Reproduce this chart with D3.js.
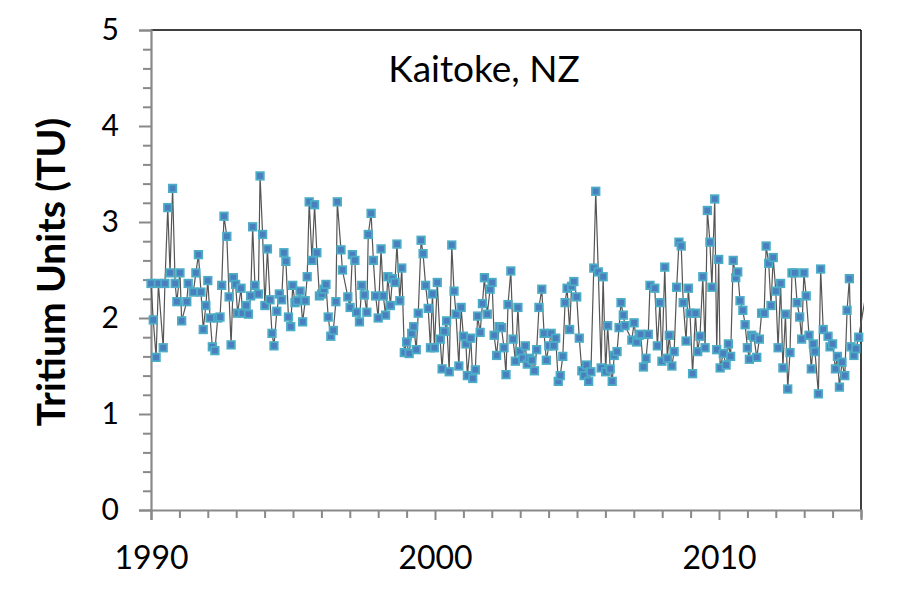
<!DOCTYPE html>
<html>
<head>
<meta charset="utf-8">
<script src="https://cdn.jsdelivr.net/npm/d3@7"></script>
<style>
  html, body { margin: 0; padding: 0; background: #ffffff; }
  svg { display: block; }
</style>
</head>
<body>
<svg id="chart" width="904" height="597"></svg>
<script>
// ---------------- data ----------------
const chartTitle = "Kaitoke, NZ";
const yAxisTitle = "Tritium Units (TU)";
const xTickLabels = [1990, 2000, 2010];
const yTickLabels = [0, 1, 2, 3, 4, 5];

// sample dates (decimal years)
const sampleYears = [
  1990.00, 1990.08, 1990.18, 1990.26, 1990.43, 1990.49, 1990.59, 1990.67, 1990.76, 1990.85,
  1990.91, 1991.02, 1991.08, 1991.26, 1991.31, 1991.49, 1991.58, 1991.67, 1991.76, 1991.84,
  1991.93, 1992.00, 1992.08, 1992.16, 1992.25, 1992.35, 1992.43, 1992.49, 1992.57, 1992.67,
  1992.75, 1992.82, 1992.90, 1992.98, 1993.05, 1993.17, 1993.22,
  1993.35, 1993.43, 1993.51, 1993.58, 1993.66, 1993.78, 1993.84, 1993.93, 1994.01, 1994.10,
  1994.19, 1994.26, 1994.33, 1994.43, 1994.52, 1994.60, 1994.68, 1994.75, 1994.84, 1994.92,
  1994.99, 1995.07, 1995.15, 1995.25, 1995.34, 1995.43, 1995.50, 1995.57, 1995.67, 1995.76,
  1995.84, 1995.93, 1996.01, 1996.09, 1996.16, 1996.24, 1996.33, 1996.42, 1996.51, 1996.56,
  1996.69, 1996.74,
  1996.93, 1997.01, 1997.09, 1997.18, 1997.24, 1997.34, 1997.42, 1997.51, 1997.60, 1997.65,
  1997.75, 1997.83, 1997.91, 1998.00, 1998.10, 1998.18, 1998.26, 1998.34, 1998.43, 1998.50,
  1998.59, 1998.66, 1998.76, 1998.83, 1998.92, 1999.00, 1999.09, 1999.18, 1999.25, 1999.34,
  1999.41, 1999.51, 1999.58, 1999.67, 1999.76, 1999.84, 1999.91, 1999.98, 2000.08,
  2000.18, 2000.25, 2000.33, 2000.41, 2000.50, 2000.59, 2000.67, 2000.74, 2000.84, 2000.92,
  2001.00, 2001.09, 2001.14, 2001.26, 2001.33, 2001.42, 2001.50, 2001.59, 2001.67, 2001.74,
  2001.84, 2001.94, 2002.01, 2002.08, 2002.17, 2002.26, 2002.34, 2002.43, 2002.50, 2002.57,
  2002.67, 2002.75, 2002.83, 2002.92, 2002.99, 2003.09, 2003.18, 2003.25, 2003.32,
  2003.41, 2003.50, 2003.58, 2003.66, 2003.76, 2003.84, 2003.92, 2004.01, 2004.09, 2004.18,
  2004.25, 2004.34, 2004.41, 2004.50, 2004.58, 2004.65, 2004.74, 2004.81, 2004.89, 2004.99,
  2005.08, 2005.17, 2005.25, 2005.33, 2005.41, 2005.49, 2005.59, 2005.66, 2005.75, 2005.85,
  2005.92, 2006.01, 2006.08, 2006.17, 2006.24, 2006.31, 2006.41, 2006.48, 2006.55, 2006.63,
  2006.69,
  2006.93, 2007.01, 2007.10, 2007.19, 2007.24, 2007.34, 2007.43, 2007.51, 2007.57, 2007.74,
  2007.83, 2007.92, 2007.99, 2008.09, 2008.18, 2008.25, 2008.34, 2008.42, 2008.51, 2008.59,
  2008.67, 2008.74, 2008.84, 2008.92, 2008.98, 2009.07, 2009.17, 2009.25, 2009.33, 2009.43,
  2009.51, 2009.59, 2009.68, 2009.75, 2009.85, 2009.92, 2009.99, 2010.04,
  2010.15, 2010.25, 2010.33, 2010.41, 2010.50, 2010.59, 2010.66, 2010.74, 2010.84, 2010.92,
  2011.00, 2011.07, 2011.15, 2011.23, 2011.33, 2011.42, 2011.50, 2011.59, 2011.66, 2011.75,
  2011.83, 2011.91, 2012.00, 2012.08, 2012.17, 2012.25, 2012.34, 2012.42, 2012.50, 2012.57,
  2012.67, 2012.75, 2012.84, 2012.91, 2012.99, 2013.07, 2013.17, 2013.25, 2013.32, 2013.38,
  2013.50, 2013.58, 2013.67, 2013.84, 2013.91, 2014.00, 2014.10, 2014.17, 2014.24, 2014.33,
  2014.43, 2014.51, 2014.59, 2014.65, 2014.75, 2014.82, 2014.92, 2015.20
];

// tritium values (TU)
const tritiumValues = [
  2.36, 1.98, 1.59, 2.36, 1.69, 2.36, 3.15, 2.47, 3.35, 2.36,
  2.17, 2.47, 1.97, 2.17, 2.36, 2.27, 2.47, 2.66, 2.27, 1.88,
  2.13, 2.39, 2.00, 1.70, 1.66, 2.00, 2.01, 2.34, 3.06, 2.85,
  2.22, 1.72, 2.42, 2.35, 2.05, 2.31, 2.05,
  2.13, 2.04, 2.23, 2.95, 2.34, 2.25, 3.48, 2.87, 2.13, 2.72,
  2.19, 1.84, 1.71, 2.07, 2.25, 2.19, 2.68, 2.59, 2.01, 1.91,
  2.34, 2.16, 2.18, 2.28, 1.96, 2.18, 2.43, 3.21, 2.60, 3.18,
  2.68, 2.23, 2.25, 2.30, 2.35, 2.01, 1.81, 1.87, 2.17, 3.21,
  2.71, 2.50,
  2.22, 2.11, 2.66, 2.60, 2.06, 1.96, 2.34, 2.24, 2.06, 2.87,
  3.09, 2.60, 2.23, 2.00, 2.72, 2.23, 2.03, 2.43, 2.13, 2.41,
  2.37, 2.77, 2.18, 2.52, 1.64, 1.75, 1.63, 1.84, 1.91, 1.67,
  2.05, 2.81, 2.67, 2.34, 2.10, 1.69, 2.25, 1.69, 2.37,
  1.78, 1.47, 1.86, 1.97, 1.44, 2.76, 2.28, 2.04, 1.50, 2.11,
  1.81, 1.73, 1.40, 1.79, 1.37, 1.46, 2.02, 1.85, 2.15, 2.42,
  2.04, 2.30, 2.37, 1.82, 1.61, 1.91, 1.90, 1.69, 1.41, 2.14,
  2.49, 1.78, 1.55, 2.11, 1.65, 1.58, 1.71, 1.52, 1.58,
  1.56, 1.45, 1.67, 2.11, 2.30, 1.84, 1.56, 1.71, 1.84, 1.71,
  1.79, 1.34, 1.40, 1.60, 2.16, 2.31, 1.88, 2.33, 2.38, 2.22,
  1.79, 1.45, 1.40, 1.51, 1.34, 1.44, 2.52, 3.32, 2.48, 1.48,
  2.43, 1.44, 1.92, 1.47, 1.34, 1.61, 1.65, 1.90, 2.16, 2.03,
  1.92,
  1.77, 1.95, 1.75, 1.82, 1.83, 1.49, 1.58, 1.83, 2.34, 2.31,
  1.71, 2.16, 1.55, 2.53, 1.58, 1.82, 1.50, 1.65, 2.32, 2.79,
  2.75, 2.16, 1.76, 2.31, 2.05, 1.42, 2.05, 1.65, 1.81, 2.43,
  1.69, 3.12, 2.79, 2.32, 3.24, 1.67, 2.61, 1.48,
  1.63, 1.51, 1.73, 1.60, 2.60, 2.42, 2.48, 2.18, 2.08, 1.93,
  1.69, 1.57, 1.82, 1.80, 1.59, 1.78, 2.05, 2.05, 2.75, 2.57,
  2.13, 2.63, 2.28, 1.69, 2.36, 1.48, 2.04, 1.26, 1.64, 2.47,
  2.47, 2.16, 2.01, 1.78, 2.47, 2.23, 1.82, 1.47, 1.73, 1.65,
  1.21, 2.51, 1.88, 1.81, 1.70, 1.73, 1.47, 1.60, 1.28, 1.54,
  1.40, 2.08, 2.41, 1.70, 1.61, 1.68, 1.80, 2.30
];

// ---------------- drawing ----------------
const svg = d3.select("#chart");
const W = 904, H = 597;
const margin = { left: 151, right: W - 861, top: 30, bottom: H - 510 };
const x0 = margin.left, x1 = W - margin.right, y0 = margin.top, y1 = H - margin.bottom;

const x = d3.scaleLinear().domain([1990, 2015]).range([x0, x1]);
const y = d3.scaleLinear().domain([0, 5]).range([y1, y0]);

const axisColor = "#898989";
const labelFont = "Lato, 'Open Sans', sans-serif";

// border (top and right) in black
svg.append("line").attr("x1", x0).attr("x2", x1).attr("y1", y0).attr("y2", y0)
  .attr("stroke", "#000").attr("stroke-width", 1.5);
svg.append("line").attr("x1", x1).attr("x2", x1).attr("y1", y0).attr("y2", y1)
  .attr("stroke", "#000").attr("stroke-width", 1.5);

// y minor ticks
const yMinor = d3.range(0, 5.0001, 0.2).filter(v => Math.abs(v - Math.round(v)) > 1e-6);
svg.append("g").attr("transform", `translate(${x0},0)`)
  .call(d3.axisLeft(y).tickValues(yMinor).tickSize(8).tickFormat(""))
  .call(g => g.select(".domain").remove())
  .call(g => g.selectAll("line").attr("stroke", axisColor).attr("stroke-width", 2));

// y major ticks + labels
svg.append("g").attr("transform", `translate(${x0},0)`)
  .call(d3.axisLeft(y).tickValues(yTickLabels).tickSize(12).tickPadding(20).tickFormat(d3.format("d")))
  .call(g => g.select(".domain").attr("stroke", axisColor).attr("stroke-width", 2.2))
  .call(g => g.selectAll("line").attr("stroke", axisColor).attr("stroke-width", 2))
  .call(g => g.selectAll("text").attr("font-family", labelFont).attr("font-size", 30).attr("fill", "#000"));

// x minor ticks (yearly)
const xMinor = d3.range(1991, 2016).filter(v => !xTickLabels.includes(v));
svg.append("g").attr("transform", `translate(0,${y1})`)
  .call(d3.axisBottom(x).tickValues(xMinor).tickSize(8).tickFormat(""))
  .call(g => g.select(".domain").remove())
  .call(g => g.selectAll("line").attr("stroke", axisColor).attr("stroke-width", 2));

// x major ticks + labels
svg.append("g").attr("transform", `translate(0,${y1})`)
  .call(d3.axisBottom(x).tickValues(xTickLabels).tickSize(10).tickPadding(26).tickFormat(d3.format("d")))
  .call(g => g.select(".domain").attr("stroke", axisColor).attr("stroke-width", 2.2))
  .call(g => g.selectAll("line").attr("stroke", axisColor).attr("stroke-width", 2))
  .call(g => g.selectAll("text").attr("font-family", labelFont).attr("font-size", 32).attr("fill", "#000"));

// y axis title
svg.append("text")
  .attr("transform", "translate(65,272) rotate(-90)")
  .attr("text-anchor", "middle")
  .attr("font-family", labelFont)
  .attr("font-weight", "bold")
  .attr("font-size", 39)
  .attr("fill", "#000")
  .text(yAxisTitle);

// chart title
svg.append("text")
  .attr("x", 484).attr("y", 82)
  .attr("text-anchor", "middle")
  .attr("font-family", labelFont)
  .attr("font-size", 37)
  .attr("fill", "#000")
  .text(chartTitle);

// clip
svg.append("clipPath").attr("id", "plotClip")
  .append("rect").attr("x", x0 - 12).attr("y", y0 - 10)
  .attr("width", (x1 + 3) - (x0 - 12)).attr("height", (y1 + 10) - (y0 - 10));

const data = sampleYears.map((t, i) => ({ t, v: tritiumValues[i] }));

const plot = svg.append("g").attr("clip-path", "url(#plotClip)");

plot.append("path")
  .datum(data)
  .attr("fill", "none")
  .attr("stroke", "#555555")
  .attr("stroke-width", 1.2)
  .attr("d", d3.line().x(d => x(d.t)).y(d => y(d.v)));

const ms = 7.5;
plot.selectAll("rect.m")
  .data(data.filter(d => d.t <= 2015))
  .join("rect")
  .attr("class", "m")
  .attr("x", d => x(d.t) - ms / 2)
  .attr("y", d => y(d.v) - ms / 2)
  .attr("width", ms).attr("height", ms)
  .attr("fill", "#4a7ebf")
  .attr("stroke", "#4bacc6")
  .attr("stroke-width", 1.8);
</script>
</body>
</html>
